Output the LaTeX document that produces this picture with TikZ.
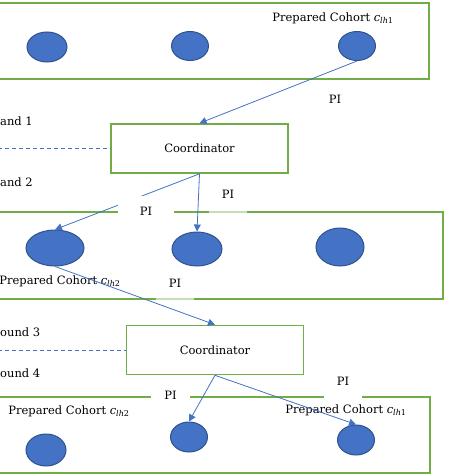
\documentclass[tikz,border=0pt]{standalone}
\usepackage{fontspec}
\setmainfont{DejaVu Serif}
\usetikzlibrary{shapes.geometric,arrows.meta}
\definecolor{boxgreen}{RGB}{112,173,71}
\definecolor{dotblue}{RGB}{68,114,196}
\definecolor{dotedge}{RGB}{47,82,143}
\newcommand{\cohortsub}[1]{\textit{c}\textsubscript{\textit{lh}#1}}
\begin{document}
\begin{tikzpicture}[x=1pt,y=-1pt,
  font=\fontsize{11.5}{14}\selectfont,
  bandbox/.style={draw=boxgreen,line width=1.6pt},
  coordbox/.style={draw=boxgreen,line width=1.6pt,fill=white,
    minimum width=177pt,minimum height=49pt},
  dotnode/.style={ellipse,draw=dotedge,line width=1pt,fill=dotblue,inner sep=0pt},
  flow/.style={draw=dotblue,line width=0.8pt,-{Triangle[length=7pt,width=7pt]}},
  roundline/.style={draw=dotblue,line width=0.8pt,dash pattern=on 4pt off 3pt},
  pilabel/.style={fill=white,anchor=base,inner ysep=0pt,text height=10pt,text depth=2pt}]
\clip (0,0) rectangle (474,474);

% the three bands
\draw[bandbox] (-5,3) rectangle (429,79);
\draw[bandbox] (-5,212) rectangle (443,299);
\draw[bandbox] (-5,397) rectangle (430,473);

% cohort members
\node[dotnode,minimum width=40pt,minimum height=30pt] (c11) at (47,47) {};
\node[dotnode,minimum width=37pt,minimum height=29pt] (c12) at (190,46) {};
\node[dotnode,minimum width=37pt,minimum height=29pt] (c13) at (357,46) {};
\node[dotnode,minimum width=58pt,minimum height=36pt] (b21) at (55,248) {};
\node[dotnode,minimum width=50pt,minimum height=34pt] (b22) at (197,249) {};
\node[dotnode,minimum width=48pt,minimum height=38pt] (b23) at (340,247) {};
\node[dotnode,minimum width=40pt,minimum height=32pt] (b31) at (46,450) {};
\node[dotnode,minimum width=37pt,minimum height=30pt] (b32) at (189,437) {};
\node[dotnode,minimum width=37pt,minimum height=30pt] (b33) at (356,440) {};

% coordinators
\node[coordbox] (coord1) at (199.5,148.5) {Coordinator};
\node[coordbox] (coord2) at (215,350) {Coordinator};

% texts
\node (cohort1) at (333,18) {Prepared Cohort \cohortsub{1}};
\node (cohort2) at (60,281) {Prepared Cohort \cohortsub{2}};
\node (cohort3) at (69,411) {Prepared Cohort \cohortsub{2}};
\node (cohort4) at (346,410) {Prepared Cohort \cohortsub{1}};
\node[anchor=west,inner xsep=0pt] (round1) at (0,121) {and 1};
\node[anchor=west,inner xsep=0pt] (round2) at (0,182) {and 2};
\node[anchor=west,inner xsep=0pt] (round3) at (0,332) {ound 3};
\node[anchor=west,inner xsep=0pt] (round4) at (0,373) {ound 4};

% round separators
\coordinate (sep1) at (-2,148.5);
\coordinate (sep2) at (-2,350);
\draw[roundline] (sep1) -- (coord1.west);
\draw[roundline] (sep2) -- (coord2.west);

% flows
\draw[flow] (c13.south) -- (coord1.north);
\draw[flow] (coord1.south) -- (b21.north);
\draw[flow] (coord1.south) -- (b22.north);
\draw[flow] (b21.south) -- (coord2.north);
\draw[flow] (coord2.south) -- (b32.north);
\draw[flow] (coord2.south) -- (b33.north);

% PI labels
\node[pilabel] (pi1) at (335,103.5) {PI};
\node[pilabel,inner xsep=22pt,text height=19.5pt] (pi2) at (146,215.5) {PI};
\node[pilabel,fill opacity=0.6,text opacity=1,inner xsep=13pt,text depth=14pt] (pi3) at (228,198.5) {PI};
\node[pilabel,fill opacity=0.6,text opacity=1,inner xsep=13pt,text depth=13pt] (pi4) at (175,287.5) {PI};
\node[pilabel,inner xsep=13.5pt] (pi5) at (170.5,399.5) {PI};
\node[pilabel,inner xsep=13pt,text depth=13pt] (pi6) at (343,385.5) {PI};
\end{tikzpicture}
\end{document}
